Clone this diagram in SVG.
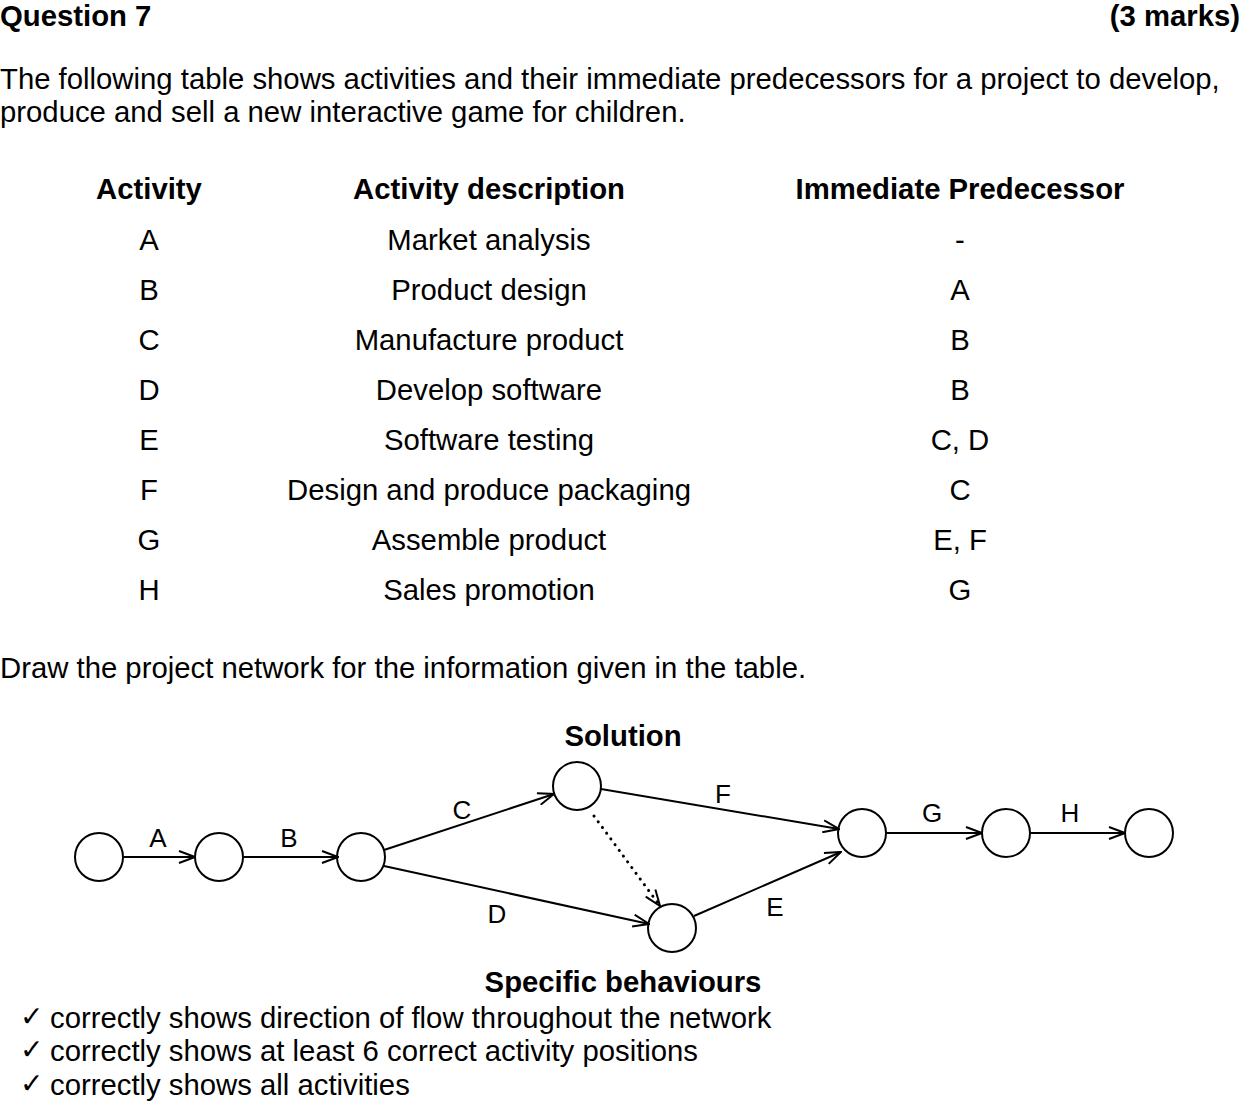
<svg xmlns="http://www.w3.org/2000/svg" width="1244" height="1102" viewBox="0 0 1244 1102">
  <style>
    text { font-family: "Liberation Sans", Arial, sans-serif; fill: #000; font-size: 29.3px; }
    .b { font-weight: bold; }
    .c { text-anchor: middle; }
    .lbl { font-size: 26px; text-anchor: middle; }
    .tick { font-family: "DejaVu Sans", sans-serif; font-size: 28px; }
    .node circle { fill: none; stroke: #000; stroke-width: 2; }
    #edges line { stroke: #000; stroke-width: 2; fill: none; }
    #edges .dum { stroke-width: 3; stroke-dasharray: 0.1 7; stroke-linecap: round; }
  </style>
  <defs>
    <marker id="arr" viewBox="0 0 18 14" refX="17" refY="7" markerWidth="18" markerHeight="14" markerUnits="userSpaceOnUse" orient="auto">
      <path d="M1,1 L17,7 L1,13" fill="none" stroke="#000" stroke-width="2"/>
    </marker>
  </defs>
  <rect width="1244" height="1102" fill="#fff"/>

  <!-- heading -->
  <text x="0" y="26" class="b">Question 7</text>
  <text x="1240" y="26" class="b" text-anchor="end">(3 marks)</text>
  <text x="0" y="89">The following table shows activities and their immediate predecessors for a project to develop,</text>
  <text x="0" y="122">produce and sell a new interactive game for children.</text>

  <!-- activity table -->
  <g id="table">
    <text x="149" y="199" class="b c">Activity</text>
    <text x="489" y="199" class="b c">Activity description</text>
    <text x="960" y="199" class="b c">Immediate Predecessor</text>

    <text x="149" y="250" class="c">A</text><text x="489" y="250" class="c">Market analysis</text><text x="960" y="250" class="c">-</text>
    <text x="149" y="300" class="c">B</text><text x="489" y="300" class="c">Product design</text><text x="960" y="300" class="c">A</text>
    <text x="149" y="350" class="c">C</text><text x="489" y="350" class="c">Manufacture product</text><text x="960" y="350" class="c">B</text>
    <text x="149" y="400" class="c">D</text><text x="489" y="400" class="c">Develop software</text><text x="960" y="400" class="c">B</text>
    <text x="149" y="450" class="c">E</text><text x="489" y="450" class="c">Software testing</text><text x="960" y="450" class="c">C, D</text>
    <text x="149" y="500" class="c">F</text><text x="489" y="500" class="c">Design and produce packaging</text><text x="960" y="500" class="c">C</text>
    <text x="149" y="550" class="c">G</text><text x="489" y="550" class="c">Assemble product</text><text x="960" y="550" class="c">E, F</text>
    <text x="149" y="600" class="c">H</text><text x="489" y="600" class="c">Sales promotion</text><text x="960" y="600" class="c">G</text>
  </g>

  <text x="0" y="678">Draw the project network for the information given in the table.</text>
  <text x="623" y="746" class="b c">Solution</text>

  <!-- activity-on-arrow network -->
  <g id="edges">
    <line x1="123" y1="857" x2="195" y2="857" marker-end="url(#arr)"/>
    <line x1="243" y1="857" x2="338" y2="857" marker-end="url(#arr)"/>
    <line x1="384" y1="850" x2="554" y2="794" marker-end="url(#arr)"/>
    <line x1="384" y1="866" x2="649" y2="924" marker-end="url(#arr)"/>
    <line x1="601" y1="789" x2="839" y2="829" marker-end="url(#arr)"/>
    <line x1="694" y1="916" x2="841" y2="852" marker-end="url(#arr)"/>
    <line x1="886" y1="833" x2="982" y2="833" marker-end="url(#arr)"/>
    <line x1="1030" y1="833" x2="1125" y2="833" marker-end="url(#arr)"/>
    <line class="dum" x1="594" y1="816" x2="660" y2="906" marker-end="url(#arr)"/>
    <text x="158" y="847" class="lbl">A</text>
    <text x="289" y="847" class="lbl">B</text>
    <text x="462" y="819" class="lbl">C</text>
    <text x="497" y="923" class="lbl">D</text>
    <text x="723" y="803" class="lbl">F</text>
    <text x="775" y="916" class="lbl">E</text>
    <text x="932" y="822" class="lbl">G</text>
    <text x="1070" y="822" class="lbl">H</text>
  </g>

  <g id="n1" class="node"><circle cx="99" cy="857" r="24"/></g>
  <g id="n2" class="node"><circle cx="219" cy="857" r="24"/></g>
  <g id="n3" class="node"><circle cx="361" cy="857" r="24"/></g>
  <g id="n4" class="node"><circle cx="577" cy="786" r="24"/></g>
  <g id="n5" class="node"><circle cx="672" cy="928" r="24"/></g>
  <g id="n6" class="node"><circle cx="862" cy="833" r="24"/></g>
  <g id="n7" class="node"><circle cx="1006" cy="833" r="24"/></g>
  <g id="n8" class="node"><circle cx="1149" cy="833" r="24"/></g>

  <!-- marking notes -->
  <text x="623" y="992" class="b c">Specific behaviours</text>
  <text x="20" y="1026" class="tick">✓</text>
  <text x="50" y="1028">correctly shows direction of flow throughout the network</text>
  <text x="20" y="1059" class="tick">✓</text>
  <text x="50" y="1061">correctly shows at least 6 correct activity positions</text>
  <text x="20" y="1093" class="tick">✓</text>
  <text x="50" y="1095">correctly shows all activities</text>
</svg>
